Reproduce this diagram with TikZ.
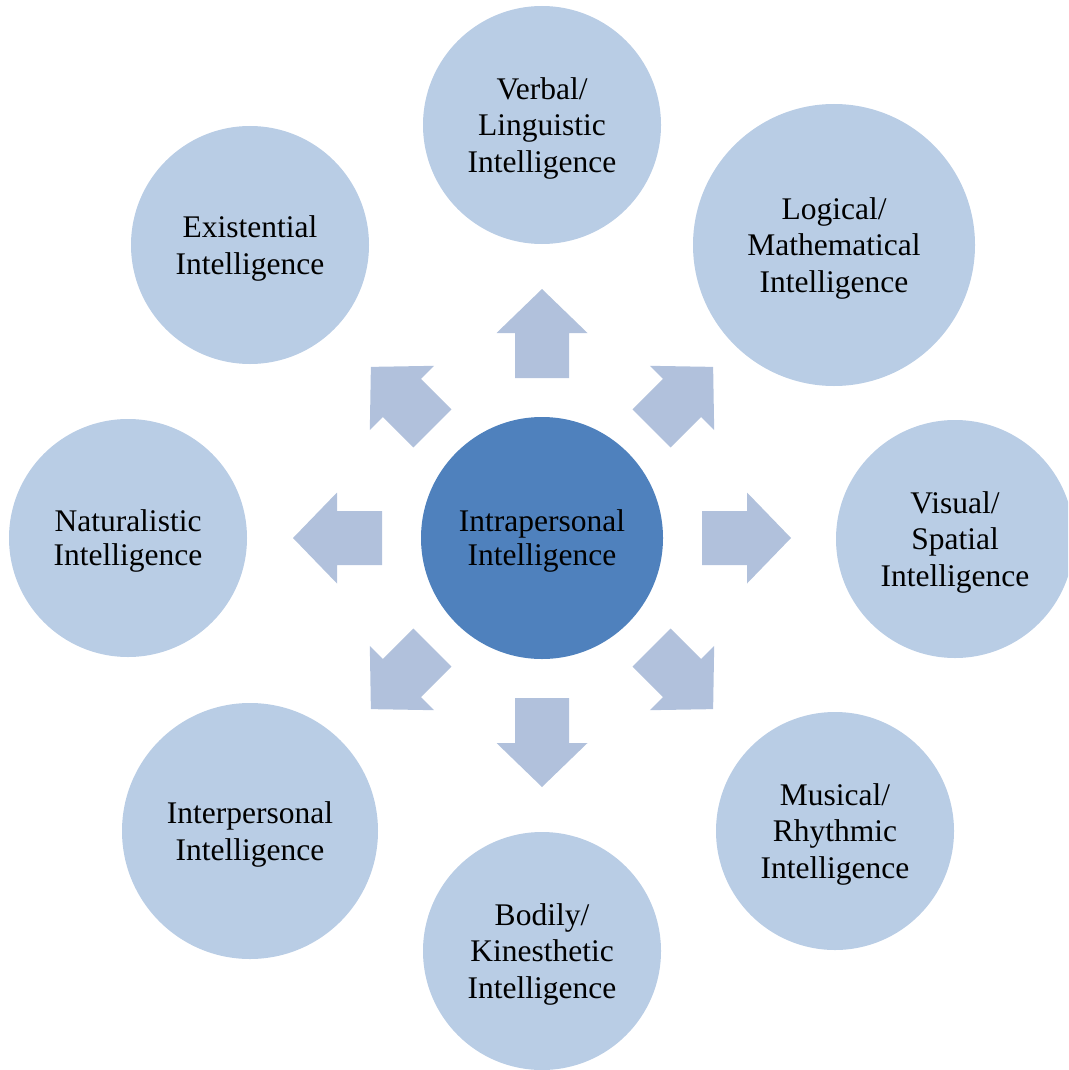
\documentclass[tikz,border=0pt]{standalone}
\usepackage{fontspec}
\setmainfont{Liberation Serif}
\definecolor{centerblue}{HTML}{4F81BD}
\definecolor{outerblue}{HTML}{B9CDE5}
\definecolor{arrowblue}{HTML}{B1C1DC}
\begin{document}
\begin{tikzpicture}[x=1pt,y=1pt,
  bubble/.style={circle, fill=outerblue, draw=none, inner sep=0pt, align=center,
    text=black, text depth=0pt, font=\fontsize{31.5}{36.5}\selectfont},
  hub/.style={bubble, fill=centerblue},
  tight/.style={font=\fontsize{31.5}{34}\selectfont}]
\useasboundingbox (0,0) rectangle (1068,-1070);
\clip (0,0) rectangle (1068,-1070);
% center
\node[hub, tight, minimum size=242pt] (intra) at (542,-538) {Intrapersonal\\Intelligence};
% outer circles
\node[bubble, minimum size=238pt] (verbal) at (542,-125) {Verbal/\\Linguistic\\Intelligence};
\node[bubble, minimum size=282pt] (logical) at (834,-245) {Logical/\\Mathematical\\Intelligence};
\node[bubble, minimum size=238pt] (visual) at (955,-539) {Visual/\\Spatial\\Intelligence};
\node[bubble, minimum size=238pt] (musical) at (835,-831) {Musical/\\Rhythmic\\Intelligence};
\node[bubble, minimum size=238pt] (bodily) at (542,-951) {Bodily/\\Kinesthetic\\Intelligence};
\node[bubble, minimum size=256pt] (inter) at (250,-831) {Interpersonal\\Intelligence};
\node[bubble, tight, minimum size=238pt] (natural) at (128,-538) {Naturalistic\\Intelligence};
\node[bubble, minimum size=238pt] (exist) at (250,-245) {Existential\\Intelligence};
% block arrows: straight ones
\foreach \a in {0,90,180,270}{
  \begin{scope}[shift={(intra.center)}, rotate=\a]
    \fill[arrowblue] (160,-27) -- (205,-27) -- (205,-45.5) -- (249,0)
      -- (205,45.5) -- (205,27) -- (160,27) -- cycle;
  \end{scope}
}
% block arrows: diagonal ones
\foreach \a in {45,135,225,315}{
  \begin{scope}[shift={(intra.center)}, rotate=\a]
    \fill[arrowblue] (155,-27) -- (198,-27) -- (198,-45.5) -- (242,0)
      -- (198,45.5) -- (198,27) -- (155,27) -- cycle;
  \end{scope}
}
\end{tikzpicture}
\end{document}
